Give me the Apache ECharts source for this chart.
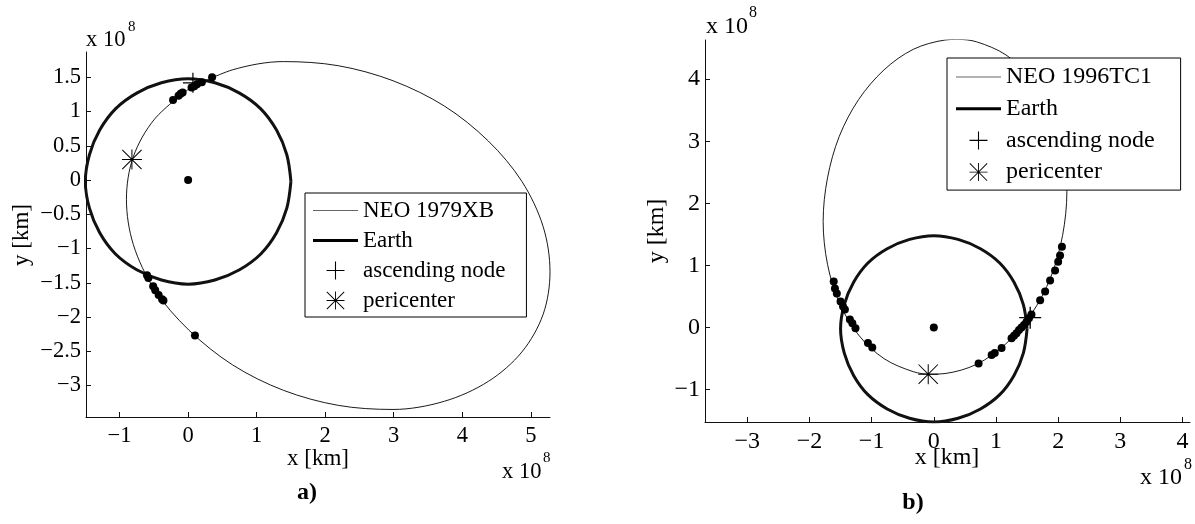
<!DOCTYPE html>
<html>
<head>
<meta charset="utf-8">
<script src="https://cdn.jsdelivr.net/npm/echarts@6/dist/echarts.min.js"></script>
<style>
html,body{margin:0;padding:0;background:#fff;}
#chart{width:1195px;height:524px;}
</style>
</head>
<body>
<div id="chart"></div>
<script>
// ---------- data (units of 10^8 km), points read along the drawn orbits ----------
const orbitA = [[0.01,1.33],[-0.49,0.89],[-0.80,0.34],[-0.90,-0.28],[-0.80,-0.94],[-0.49,-1.60],[0.01,-2.19],[0.65,-2.70],[1.39,-3.07],[2.19,-3.29],[2.99,-3.35],[3.74,-3.23],[4.38,-2.94],[4.87,-2.51],[5.18,-1.96],[5.28,-1.34],[5.18,-0.68],[4.87,-0.02],[4.38,0.57],[3.74,1.08],[2.99,1.45],[2.19,1.67],[1.39,1.73],[0.65,1.61],[0.01,1.33]];
const orbitB = [[2.07,2.87],[1.88,3.50],[1.57,4.01],[1.16,4.39],[0.69,4.60],[0.38,4.64],[0.18,4.63],[-0.33,4.48],[-0.80,4.15],[-1.21,3.67],[-1.52,3.08],[-1.71,2.41],[-1.78,1.71],[-1.71,1.02],[-1.52,0.40],[-1.21,-0.12],[-0.80,-0.50],[-0.33,-0.71],[-0.05,-0.75],[0.18,-0.74],[0.69,-0.59],[1.16,-0.26],[1.57,0.22],[1.88,0.81],[2.07,1.48],[2.14,2.19],[2.07,2.87]];
const earth = [[1.50,-0.02],[1.44,0.37],[1.29,0.73],[1.06,1.04],[0.75,1.27],[0.39,1.42],[0.00,1.48],[-0.39,1.42],[-0.75,1.27],[-1.06,1.04],[-1.29,0.73],[-1.44,0.37],[-1.50,-0.02],[-1.44,-0.41],[-1.29,-0.77],[-1.06,-1.08],[-0.75,-1.31],[-0.39,-1.46],[0.00,-1.52],[0.39,-1.46],[0.75,-1.31],[1.06,-1.08],[1.29,-0.77],[1.44,-0.41],[1.50,-0.02]];
const passesA = [[0,0],[-0.22,1.17],[-0.14,1.23],[-0.11,1.26],[-0.08,1.28],[0.05,1.35],[0.09,1.37],[0.13,1.40],[0.20,1.43],[0.35,1.50],[-0.60,-1.39],[-0.58,-1.43],[-0.51,-1.55],[-0.48,-1.61],[-0.43,-1.68],[-0.38,-1.74],[-0.36,-1.76],[0.10,-2.27]];
const passesB = [[0,0],[-1.61,0.74],[-1.59,0.63],[-1.56,0.55],[-1.50,0.42],[-1.46,0.34],[-1.43,0.29],[-1.35,0.13],[-1.31,0.07],[-1.26,-0.01],[-1.06,-0.25],[-0.99,-0.32],[0.72,-0.58],[0.93,-0.44],[0.98,-0.41],[1.09,-0.33],[1.25,-0.17],[1.29,-0.13],[1.33,-0.09],[1.37,-0.04],[1.41,0.00],[1.45,0.04],[1.49,0.09],[1.53,0.15],[1.57,0.21],[1.71,0.44],[1.79,0.58],[1.87,0.76],[1.95,0.92],[2.00,1.06],[2.03,1.16],[2.06,1.30]];
const nodeA = [[0.07,1.42]];
const periA = [[-0.82,0.30]];
const nodeB = [[1.55,0.16]];
const periB = [[-0.09,-0.75]];
const ticksAX = [-1,0,1,2,3,4,5];
const ticksAY = [-3,-2.5,-2,-1.5,-1,-0.5,0,0.5,1,1.5];
const ticksBX = [-3,-2,-1,0,1,2,3,4];
const ticksBY = [-1,0,1,2,3,4];
const namesA = ['NEO 1979XB','Earth','ascending node','pericenter'];
const namesB = ['NEO 1996TC1','Earth','ascending node','pericenter'];

// ---------- styling ----------
const FONT = "'Liberation Serif','Times New Roman',serif";
const PLUS = 'path://M0,47H100V53H0Z M47,0H53V100H47Z';
const STAR = 'path://M0,47.5H100V52.5H0Z M47.5,0H52.5V100H47.5Z M0,3.5L3.5,0L100,96.5L96.5,100Z M96.5,0L100,3.5L3.5,100L0,96.5Z';
const THIN = 'path://M0,0H45V1H0Z';
const THICK = 'path://M0,0H45V3H0Z';
const SMOOTH = 0.33;
const fmt = v => (v < 0 ? '\u2212' : '') + Math.abs(v);

function xAxis(idx, min, max, ticks, fs){
  return {type:'value', gridIndex:idx, min:min, max:max, position:'bottom',
    axisLine:{onZero:false, lineStyle:{color:'#111', width:1}},
    axisTick:{inside:true, length:5, customValues:ticks, lineStyle:{color:'#111'}},
    axisLabel:{customValues:ticks, formatter:fmt, color:'#000', fontFamily:FONT, fontSize:fs, margin:8},
    splitLine:{show:false}};
}
function yAxis(idx, min, max, ticks, fs){
  return {type:'value', gridIndex:idx, min:min, max:max, position:'left',
    axisLine:{onZero:false, lineStyle:{color:'#111', width:1}},
    axisTick:{inside:true, length:5, customValues:ticks, lineStyle:{color:'#111'}},
    axisLabel:{customValues:ticks, formatter:fmt, color:'#000', fontFamily:FONT, fontSize:fs, margin:5},
    splitLine:{show:false}};
}
function panelSeries(idx, name, orbit, passes, node, peri, plusSize){
  return [
    {type:'line', name:'Earth', xAxisIndex:idx, yAxisIndex:idx, data:earth, smooth:SMOOTH, symbol:'none',
      lineStyle:{color:'#111', width:3}, itemStyle:{color:'#111'}, z:2, silent:true},
    {type:'line', name:name, xAxisIndex:idx, yAxisIndex:idx, data:orbit, smooth:SMOOTH, symbol:'none',
      lineStyle:{color:'#000', width:0.9}, itemStyle:{color:'#666'}, z:3, silent:true},
    {type:'scatter', name:'passes', xAxisIndex:idx, yAxisIndex:idx, data:passes, symbol:'circle', symbolSize:8,
      itemStyle:{color:'#000', opacity:1}, z:4, silent:true},
    {type:'scatter', name:'ascending node', xAxisIndex:idx, yAxisIndex:idx, data:node, symbol:PLUS, symbolSize:plusSize,
      itemStyle:{color:'#000', opacity:1}, z:5, silent:true},
    {type:'scatter', name:'pericenter', xAxisIndex:idx, yAxisIndex:idx, data:peri, symbol:STAR, symbolSize:20,
      itemStyle:{color:'#000', opacity:1}, z:5, silent:true}
  ];
}
function legend(names, left, top, fs, gap, pad){
  const data = [
    {name:names[0], icon:THIN, itemStyle:{color:'#666', opacity:1}},
    {name:names[1], icon:THICK, itemStyle:{color:'#000', opacity:1}},
    {name:names[2], icon:PLUS, itemStyle:{color:'#000', opacity:1}},
    {name:names[3], icon:STAR, itemStyle:{color:'#000', opacity:1}}
  ];
  return {data:data, orient:'vertical', left:left, top:top, itemWidth:45, itemHeight:18, itemGap:gap,
    padding:pad, backgroundColor:'#fff', borderColor:'#000', borderWidth:1, borderRadius:0,
    selectedMode:false, symbolKeepAspect:true,
    textStyle:{fontFamily:FONT, fontSize:fs, color:'#000'}};
}
function txt(x, y, s, fs, opts){
  opts = opts || {};
  return {type:'text', x:x, y:y, rotation:opts.rot || 0, silent:true,
    style:{text:s, fontFamily:FONT, fontSize:fs, fontWeight:opts.bold ? 'bold' : 'normal', fill:'#000',
      align:opts.align || 'left', verticalAlign:'middle'}};
}

const chart = echarts.init(document.getElementById('chart'), null, {renderer:'canvas'});
chart.setOption({
  animation:false,
  backgroundColor:'#fff',
  grid:[
    {left:86, top:52, width:464, height:365, outerBoundsMode:'none', containLabel:false},
    {left:705, top:40, width:485, height:382, outerBoundsMode:'none', containLabel:false}
  ],
  xAxis:[xAxis(0,-1.49,5.28,ticksAX,22.5), xAxis(1,-3.68,4.12,ticksBX,24)],
  yAxis:[yAxis(0,-3.46,1.87,ticksAY,22.5), yAxis(1,-1.52,4.63,ticksBY,24)],
  legend:[
    legend(namesA, 305, 193, 23, 7, [6,21,5,8]),
    legend(namesB, 947, 58, 24, 7.7, [7,26,6,9])
  ],
  series:[].concat(
    panelSeries(0,'NEO 1979XB',orbitA,passesA,nodeA,periA,20),
    panelSeries(1,'NEO 1996TC1',orbitB,passesB,nodeB,periB,22)
  ),
  graphic:[
    txt(86,40,'x 10',22.5), txt(128,27,'8',15),
    txt(502,472,'x 10',22.5), txt(543,458,'8',15),
    txt(318,459,'x [km]',23,{align:'center'}),
    txt(22,235,'y [km]',23,{align:'center', rot:Math.PI/2}),
    txt(307,493,'a)',24,{align:'center', bold:true}),
    txt(706,27,'x 10',24), txt(749,13,'8',16),
    txt(1140,478,'x 10',24), txt(1184,465,'8',16),
    txt(947,458,'x [km]',24,{align:'center'}),
    txt(657,231,'y [km]',24,{align:'center', rot:Math.PI/2}),
    txt(913,503,'b)',24,{align:'center', bold:true})
  ]
});
</script>
</body>
</html>
